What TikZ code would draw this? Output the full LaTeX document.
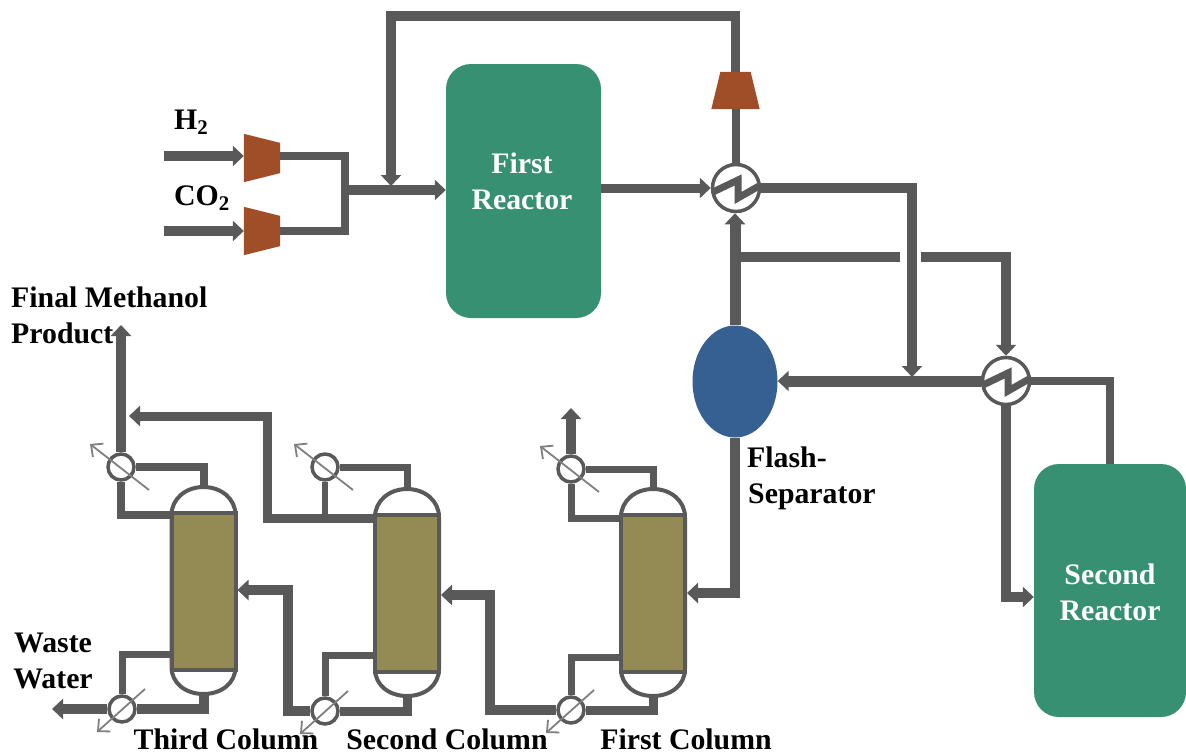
\documentclass[tikz,border=0pt]{standalone}
\usepackage{fontspec}
\setmainfont{Liberation Serif}
\usetikzlibrary{arrows.meta,shapes.geometric,backgrounds,calc}
\definecolor{pipe}{HTML}{595959}
\definecolor{reactorgreen}{HTML}{379072}
\definecolor{compbrown}{HTML}{A04E28}
\definecolor{flashblue}{HTML}{366092}
\definecolor{packolive}{HTML}{948A54}
\definecolor{diaggray}{HTML}{7F7F7F}
\tikzset{
  pipeline/.style={draw=pipe,line width=#1,line cap=butt,line join=miter},
  pipeline/.default=8pt,
  tip/.style={-{Triangle[length=11pt,width=20pt]}},
  reactor/.style={fill=reactorgreen,rounded corners=25pt,inner sep=0pt},
  hxbig/.style={circle,draw=pipe,fill=white,line width=3.5pt,minimum size=47pt,inner sep=0pt},
  hxsmall/.style={circle,draw=pipe,fill=white,line width=3.5pt,minimum size=26pt,inner sep=0pt},
  comp/.style={rectangle,inner sep=0pt,minimum width=48pt,minimum height=37pt},
  flash/.style={ellipse,fill=flashblue,minimum width=85pt,minimum height=112pt,inner sep=0pt},
  packing/.style={rectangle,draw=pipe,fill=packolive,line width=4pt,minimum width=64pt,minimum height=157pt,inner sep=0pt},
  lab/.style={font=\fontsize{29.8}{36}\selectfont\bfseries,text=black,inner sep=0pt},
  whitelab/.style={lab,text=white,anchor=base},
  diag/.style={draw=diaggray,line width=1.8pt,-{Straight Barb[length=9pt,width=17pt]}}
}
% zigzag inside a big exchanger
\newcommand{\zigzag}[1]{\draw[pipe,line width=7pt,line join=miter]
  ([shift={(-23,4)}]#1.center) -- ([shift={(2,-8)}]#1.center) -- ([shift={(2,10)}]#1.center) -- ([shift={(23,-2)}]#1.center);}
% compressor outline from its node's corners
\newcommand{\compfill}[1]{\fill[compbrown] (#1.south west) -- (#1.south east)
  -- ($(#1.north east)!0.1875!(#1.north west)$) -- ($(#1.north west)!0.1875!(#1.north east)$) -- cycle;}
% column body: name, cx, packing centre y
\newcommand{\columnbody}[3]{%
  \draw[pipe,fill=white,line width=4pt]
    (#2-32,#3-76) .. controls (#2-32,#3-92) and (#2-18,#3-104) .. (#2,#3-104)
    .. controls (#2+18,#3-104) and (#2+32,#3-92) .. (#2+32,#3-76)
    -- (#2+32,#3+76) .. controls (#2+32,#3+92) and (#2+18,#3+103) .. (#2,#3+103)
    .. controls (#2-18,#3+103) and (#2-32,#3+92) .. (#2-32,#3+76) -- cycle;
  \node[packing] (#1) at (#2,#3) {};
  \coordinate (#1top) at (#2,#3-102);
  \coordinate (#1bot) at (#2,#3+102);
}
\begin{document}
\begin{tikzpicture}[x=1pt,y=-1pt]
\useasboundingbox (0,0) rectangle (1186,755);
% equipment
\node[reactor,minimum width=155pt,minimum height=254pt] (R1) at (523.5,191) {};
\node[reactor,minimum width=152pt,minimum height=253pt] (R2) at (1110,590.5) {};
\node[hxbig] (hx1) at (736,188) {};
\node[hxbig] (hx2) at (1006,381) {};
\node[comp] (c3) at (735.5,90.5) {};
\compfill{c3}
\node[comp,rotate=-90,minimum height=36pt] (c1) at (262,158) {};
\compfill{c1}
\node[comp,rotate=-90,minimum height=36pt] (c2) at (262,231) {};
\compfill{c2}
\node[flash] (fl) at (735,381.5) {};
\columnbody{colC}{203.5}{591}
\columnbody{colB}{407}{593}
\columnbody{colA}{653}{593}
\node[hxsmall] (t3) at (121,467) {};
\node[hxsmall] (b3) at (122,709) {};
\node[hxsmall] (t2) at (325,467) {};
\node[hxsmall] (b2) at (325,711) {};
\node[hxsmall] (t1) at (571,469) {};
\node[hxsmall] (b1) at (571,710) {};
% free ends and junctions
\coordinate (h2in) at (164,156);
\coordinate (co2in) at (164,231);
\coordinate (merge) at (345,190);
\coordinate (recyc) at (391,186);
\coordinate (split) at (736,257);
\coordinate (gapL) at (900,257);
\coordinate (gapR) at (921,257);
\coordinate (drop) at (912,377);
\coordinate (prod) at (121,325);
\coordinate (top1) at (571,408);
\coordinate (waste) at (52,709);
\coordinate (prodjoin) at (129,416);
% connectors
\begin{scope}[on background layer]
\draw[pipeline=10pt,tip] (h2in) -- (c1.south |- h2in);
\draw[pipeline=10pt,tip] (co2in) -- (c2.south);
\draw[pipeline=8pt] (c1.north |- h2in) -| (merge |- c2) -- (c2.north);
\draw[pipeline=10pt,tip] (merge) -- (R1.west |- merge);
\draw[pipeline=8pt] (hx1.north -| c3) -- (c3.south);
\draw[pipeline=9.5pt,tip] (c3.north) -- (c3.north |- 0,16) -| (recyc);
\draw[pipeline=9pt,tip] (R1.east |- hx1) -- (hx1.west);
\draw[pipeline=9.5pt,tip] (hx1.east) -| (drop);
\draw[pipeline=11pt,tip] (fl.north) -- (fl.north |- hx1.south);
\draw[pipeline=10pt] (split) -- (gapL);
\draw[pipeline=9.5pt,tip] (gapR) -| (hx2.north);
\draw[pipeline=11pt,tip] (hx2.west) -- (fl.east |- hx2.west);
\draw[pipeline=8.5pt] (hx2.east) -| (R2.north);
\draw[pipeline=9.5pt,tip] (hx2.south) |- (R2.west |- 0,597);
\draw[pipeline=10pt,tip] (fl.south) |- (colA.east |- 0,593);
% first column
\draw[pipeline=7pt] (colAtop) |- (t1.east);
\draw[pipeline=7pt] (t1.south) |- (colA.west |- 0,518);
\draw[pipeline=10pt,tip] (t1.north) -- (top1);
\draw[pipeline=7pt] (colA.west |- 0,657) -| (b1.north);
\draw[pipeline=9pt] (colAbot) |- (b1.east);
\draw[pipeline=10pt,tip] (b1.west) -| (490,595) -- (colB.east |- 0,595);
% second column
\draw[pipeline=7pt] (colBtop) |- (t2.east);
\draw[pipeline=9pt,tip] (colB.west |- 0,518) -| (267,416) -- (prodjoin);
\draw[pipeline=6pt] (t2.south) -- (t2.south |- 0,518);
\draw[pipeline=7pt] (colB.west |- 0,655) -| (b2.north);
\draw[pipeline=9pt] (colBbot) |- (b2.east);
\draw[pipeline=9.5pt,tip] (b2.west) -| (288,590) -- (colC.east |- 0,590);
% third column
\draw[pipeline=8pt] (colCtop) |- (t3.east);
\draw[pipeline=7.5pt] (t3.south) |- (colC.west |- 0,515);
\draw[pipeline=10pt,tip] (t3.north) -- (prod);
\draw[pipeline=7pt] (colC.west |- 0,654) -| (b3.north);
\draw[pipeline=10pt] (colCbot) |- (b3.east);
\draw[pipeline=10pt,tip] (b3.west) -- (waste);
\end{scope}
\zigzag{hx1}
\zigzag{hx2}
\draw[diag] ([shift={(28,23)}]t3.center) -- ([shift={(-31,-23)}]t3.center);
\draw[diag] ([shift={(28,23)}]t2.center) -- ([shift={(-31,-23)}]t2.center);
\draw[diag] ([shift={(28,23)}]t1.center) -- ([shift={(-31,-23)}]t1.center);
\draw[diag] ([shift={(23,-20)}]b3.center) -- ([shift={(-25,23)}]b3.center);
\draw[diag] ([shift={(23,-20)}]b2.center) -- ([shift={(-25,23)}]b2.center);
\draw[diag] ([shift={(23,-20)}]b1.center) -- ([shift={(-25,23)}]b1.center);
% labels
\node[whitelab] (lr1a) at (522,173) {First};
\node[whitelab] (lr1b) at (522,209) {Reactor};
\node[whitelab] (lr2a) at (1110,584) {Second};
\node[whitelab] (lr2b) at (1110,620) {Reactor};
\node[lab,anchor=base west] (lh2) at (174,129) {H\textsubscript{2}};
\node[lab,anchor=base west] (lco2) at (174,205) {CO\textsubscript{2}};
\node[lab,anchor=base west] (lfm) at (11,307) {Final Methanol};
\node[lab,anchor=base west] (lpr) at (11,343) {Product};
\node[lab,anchor=base] (lwa) at (53,652) {Waste};
\node[lab,anchor=base] (lwt) at (53,688) {Water};
\node[lab,anchor=base] (lc3) at (226,749) {Third Column};
\node[lab,anchor=base] (lc2) at (447,749) {Second Column};
\node[lab,anchor=base] (lc1) at (686,749) {First Column};
\node[lab,anchor=base west] (lfs) at (747,467) {Flash-};
\node[lab,anchor=base west] (lse) at (748,503) {Separator};
\end{tikzpicture}
\end{document}
